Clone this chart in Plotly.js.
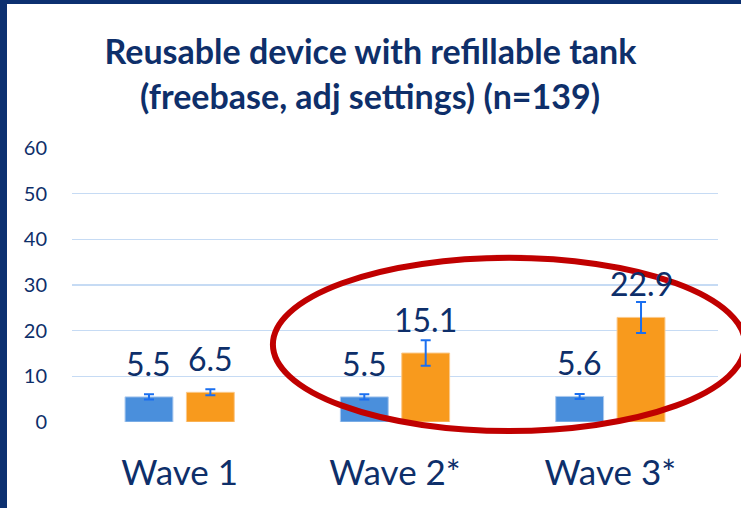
<!DOCTYPE html>
<html>
<head>
<meta charset="utf-8">
<script src="https://cdn.plot.ly/plotly-3.0.1.min.js"></script>
<style>
  html, body { margin: 0; padding: 0; background: #ffffff; }
  #chart { width: 741px; height: 508px; position: absolute; left: 0; top: 0; }
  .edge { position: absolute; background: #0c3070; }
</style>
</head>
<body>
<div id="chart"></div>
<div class="edge" style="left:0;top:0;width:7px;height:508px;"></div>
<div class="edge" style="left:0;top:0;width:741px;height:4px;"></div>
<script>
const categories = ['Wave 1', 'Wave 2*', 'Wave 3*'];
const blueValues = [5.5, 5.5, 5.6];
const orangeValues = [6.5, 15.1, 22.9];
const blueErrors = [0.6, 0.55, 0.55];
const orangeErrors = [0.65, 2.8, 3.4];
const yTickValues = [0, 10, 20, 30, 40, 50, 60];
const titleLine1 = 'Reusable device with refillable tank';
const titleLine2 = '(freebase, adj settings) (n=139)';

const navy = '#0e2f6a';
const errColor = '#1a6ff0';

const traces = [
  {
    type: 'bar', x: categories, y: blueValues, name: 'blue',
    marker: { color: '#4a8fdc', line: { color: '#a9c8ee', width: 1 } },
    error_y: { type: 'data', array: blueErrors, visible: true, color: errColor, thickness: 2, width: 5 },
    hoverinfo: 'skip'
  },
  {
    type: 'bar', x: categories, y: orangeValues, name: 'orange',
    marker: { color: '#f89a1d', line: { color: '#fbc98a', width: 1 } },
    error_y: { type: 'data', array: orangeErrors, visible: true, color: errColor, thickness: 2, width: 5 },
    hoverinfo: 'skip'
  }
];

const annotations = [];
const seriesList = [blueValues, orangeValues];
const shifts = [-30.75, 30.75];
seriesList.forEach((vals, s) => {
  vals.forEach((v, i) => {
    annotations.push({
      x: categories[i], y: v, xref: 'x', yref: 'y',
      text: v.toFixed(1), showarrow: false,
      xanchor: 'center', yanchor: 'bottom',
      xshift: shifts[s], yshift: 12,
      font: { family: 'Lato, sans-serif', size: 32, color: navy }
    });
  });
});
annotations.push({
  x: 0.461, y: 1.19, xref: 'paper', yref: 'paper',
  text: '<b>' + titleLine2 + '</b>', showarrow: false,
  xanchor: 'center', yanchor: 'middle',
  font: { family: 'Lato, sans-serif', size: 34, color: navy }
});

const layout = {
  width: 741, height: 508,
  margin: { l: 72, r: 23, t: 148, b: 86 },
  paper_bgcolor: '#ffffff', plot_bgcolor: '#ffffff',
  showlegend: false,
  barmode: 'group', bargap: 0.43, bargroupgap: 0.22,
  title: {
    text: '<b>' + titleLine1 + '</b>',
    x: 0.5, xanchor: 'center', y: 0.897, yanchor: 'middle', yref: 'container',
    font: { family: 'Lato, sans-serif', size: 34, color: navy }
  },
  xaxis: {
    type: 'category', showgrid: false, zeroline: false, showline: false,
    ticks: 'outside', ticklen: 20, tickcolor: 'rgba(0,0,0,0)',
    tickfont: { family: 'Lato, sans-serif', size: 35, color: navy }
  },
  yaxis: {
    range: [0, 60], tickvals: yTickValues, ticktext: yTickValues.map(String),
    showgrid: true, gridcolor: '#c6dbf4', gridwidth: 1.5,
    zeroline: false, showline: false,
    ticks: 'outside', ticklen: 20, tickcolor: 'rgba(0,0,0,0)',
    tickfont: { family: 'Lato, sans-serif', size: 20, color: navy }
  },
  annotations: annotations,
  shapes: [{
    type: 'circle', xref: 'paper', yref: 'paper',
    x0: 0.311, x1: 1.042, y0: -0.033, y1: 0.599,
    line: { color: '#c00000', width: 6 }, fillcolor: 'rgba(0,0,0,0)',
    layer: 'above'
  }]
};

Plotly.newPlot('chart', traces, layout, { displayModeBar: false, staticPlot: true });
</script>
</body>
</html>
